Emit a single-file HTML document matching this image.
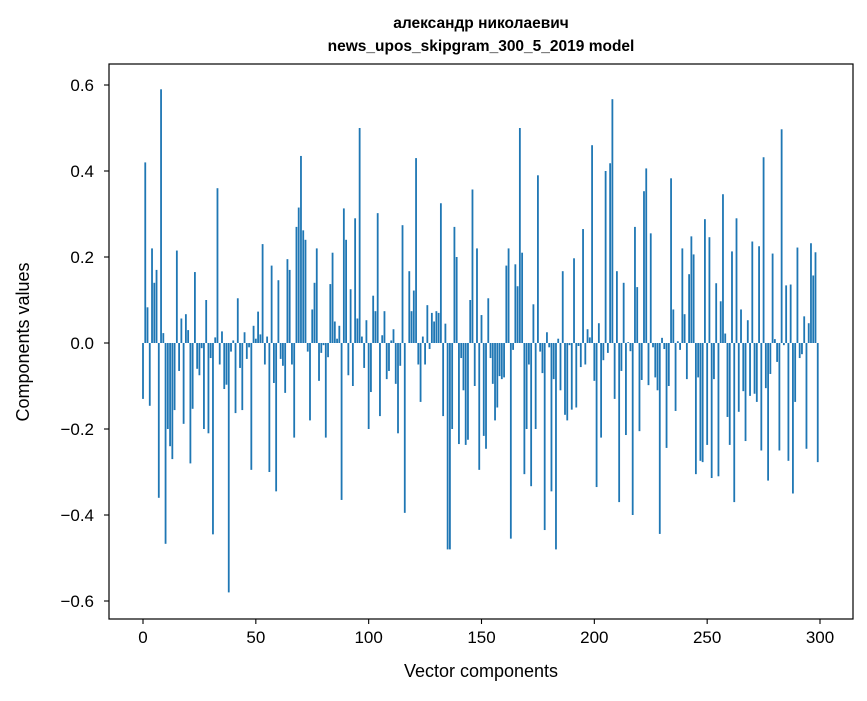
<!DOCTYPE html>
<html><head><meta charset="utf-8"><style>
body{margin:0;background:#fff}
svg text{font-family:"Liberation Sans","DejaVu Sans",sans-serif;fill:#000}
</style></head><body>
<svg id="chart" width="867" height="696" viewBox="0 0 867 696" xmlns="http://www.w3.org/2000/svg">
<rect width="867" height="696" fill="#fff"/>
<text x="481" y="28" font-size="15.5" font-weight="bold" text-anchor="middle">александр николаевич</text>
<text x="481" y="51" font-size="15.5" font-weight="bold" text-anchor="middle">news_upos_skipgram_300_5_2019 model</text>
<g id="bars"></g>
<g id="axes"></g>
<text x="481" y="677" font-size="18" text-anchor="middle">Vector components</text>
<text x="0" y="0" font-size="18" text-anchor="middle" transform="translate(29,342) rotate(-90)">Components values</text>
</svg>
<script>
const values = [
-0.13,0.42,0.083,-0.146,0.22,0.14,0.17,-0.36,0.59,0.023,
-0.467,-0.2,-0.24,-0.27,-0.156,0.215,-0.065,0.057,-0.188,0.067,
0.03,-0.28,-0.153,0.165,-0.06,-0.075,-0.012,-0.2,0.1,-0.21,
-0.035,-0.445,0.013,0.36,-0.05,0.027,-0.107,-0.097,-0.58,-0.02,
0.006,-0.163,0.104,-0.058,-0.156,0.025,-0.037,-0.01,-0.295,0.04,
0.01,0.073,0.02,0.23,-0.05,0.015,-0.3,0.18,-0.093,-0.345,
0.146,-0.037,-0.053,-0.116,0.195,0.17,-0.05,-0.22,0.27,0.315,
0.435,0.262,0.24,-0.02,-0.18,0.078,0.14,0.22,-0.088,-0.023,
-0.005,-0.22,-0.033,0.137,0.21,0.05,0.01,0.04,-0.365,0.313,
0.24,-0.075,0.125,-0.1,0.29,0.057,0.5,0.015,-0.058,0.053,
-0.2,-0.114,0.11,0.074,0.302,-0.17,0.018,0.074,-0.084,-0.065,
0.006,0.032,-0.095,-0.21,-0.053,0.274,-0.395,0,0.167,0.074,
0.122,0.43,-0.05,-0.137,0.015,-0.05,0.088,-0.014,0.07,0.05,
0.074,0.07,0.325,-0.17,0.045,-0.48,-0.48,-0.2,0.27,0.2,
-0.235,-0.035,-0.11,-0.237,-0.225,0.1,0.357,-0.1,0.22,-0.295,
0.065,-0.216,-0.246,0.104,-0.035,-0.095,-0.18,-0.15,-0.077,-0.084,
-0.08,0.18,0.22,-0.455,-0.016,0.183,0.132,0.5,0.21,-0.305,
-0.2,-0.05,-0.333,0.09,-0.2,0.39,-0.02,-0.07,-0.435,0.025,
-0.01,-0.345,-0.084,-0.48,0.01,-0.11,0.167,-0.167,-0.18,-0.005,
-0.155,0.197,-0.15,-0.007,-0.056,0.265,-0.05,0.032,0.013,0.46,
-0.088,-0.335,0.046,-0.22,-0.04,0.4,-0.023,0.418,0.567,-0.13,
0.167,-0.37,-0.065,0.14,-0.214,0.002,-0.019,-0.4,0.27,0.13,
-0.205,-0.086,0.353,0.406,-0.098,0.255,-0.01,-0.08,-0.11,-0.444,
0.012,-0.014,-0.244,-0.1,0.383,0.078,-0.158,0.004,-0.016,0.22,
0.067,-0.084,0.16,0.248,0.206,-0.305,-0.08,-0.274,-0.277,0.288,
-0.237,0.246,-0.314,-0.084,0.139,-0.31,0.097,0.346,0.022,-0.172,
-0.237,0.213,-0.37,0.29,-0.16,0.078,-0.112,-0.228,0.053,-0.123,
0.236,-0.118,-0.137,0.225,-0.25,0.432,-0.105,-0.32,-0.072,0.208,
0.009,-0.044,-0.25,0.497,-0.005,0.134,-0.274,0.136,-0.35,-0.137,
0.222,-0.035,-0.026,0.062,-0.246,0.046,0.232,0.157,0.211,-0.277
];
const xTicks = [0,50,100,150,200,250,300];
const yTicks = [-0.6,-0.4,-0.2,0.0,0.2,0.4,0.6];
const yTickLabels = ["\u22120.6","\u22120.4","\u22120.2","0.0","0.2","0.4","0.6"];

const NS = "http://www.w3.org/2000/svg";
const L = 109, R = 853, T = 64, B = 619;
const xs = v => 143 + v * (820 - 143) / 300;
const ys = v => 343 - v * 430;

const barsG = document.getElementById('bars');
values.forEach((v, i) => {
  const r = document.createElementNS(NS, 'rect');
  const w = 0.8 * (820 - 143) / 300;
  r.setAttribute('x', xs(i) - w / 2);
  r.setAttribute('y', Math.min(ys(v), ys(0)));
  r.setAttribute('width', w);
  r.setAttribute('height', Math.abs(ys(v) - ys(0)));
  r.setAttribute('fill', '#1f77b4');
  
  
  barsG.appendChild(r);
});

const ax = document.getElementById('axes');
const frame = document.createElementNS(NS, 'rect');
frame.setAttribute('x', L); frame.setAttribute('y', T);
frame.setAttribute('width', R - L); frame.setAttribute('height', B - T);
frame.setAttribute('fill', 'none'); frame.setAttribute('stroke', '#000'); frame.setAttribute('stroke-width', '1.2');


ax.appendChild(frame);

xTicks.forEach(t => {
  const ln = document.createElementNS(NS, 'line');
  ln.setAttribute('x1', xs(t)); ln.setAttribute('x2', xs(t));
  ln.setAttribute('y1', B); ln.setAttribute('y2', B + 5);
  ln.setAttribute('stroke', '#000'); ln.setAttribute('stroke-width', '1.1');
  
  
  ax.appendChild(ln);
  const tx = document.createElementNS(NS, 'text');
  tx.setAttribute('x', xs(t)); tx.setAttribute('y', B + 24);
  tx.setAttribute('font-size', '17'); tx.setAttribute('text-anchor', 'middle');
  tx.textContent = String(t);
  
  
  ax.appendChild(tx);
});
yTicks.forEach((t, k) => {
  const ln = document.createElementNS(NS, 'line');
  ln.setAttribute('x1', L - 5); ln.setAttribute('x2', L);
  ln.setAttribute('y1', ys(t)); ln.setAttribute('y2', ys(t));
  ln.setAttribute('stroke', '#000'); ln.setAttribute('stroke-width', '1.1');
  
  
  ax.appendChild(ln);
  const tx = document.createElementNS(NS, 'text');
  tx.setAttribute('x', L - 15); tx.setAttribute('y', ys(t) + 6);
  tx.setAttribute('font-size', '17'); tx.setAttribute('text-anchor', 'end');
  tx.textContent = yTickLabels[k];
  
  
  ax.appendChild(tx);
});
</script>
</body></html>
